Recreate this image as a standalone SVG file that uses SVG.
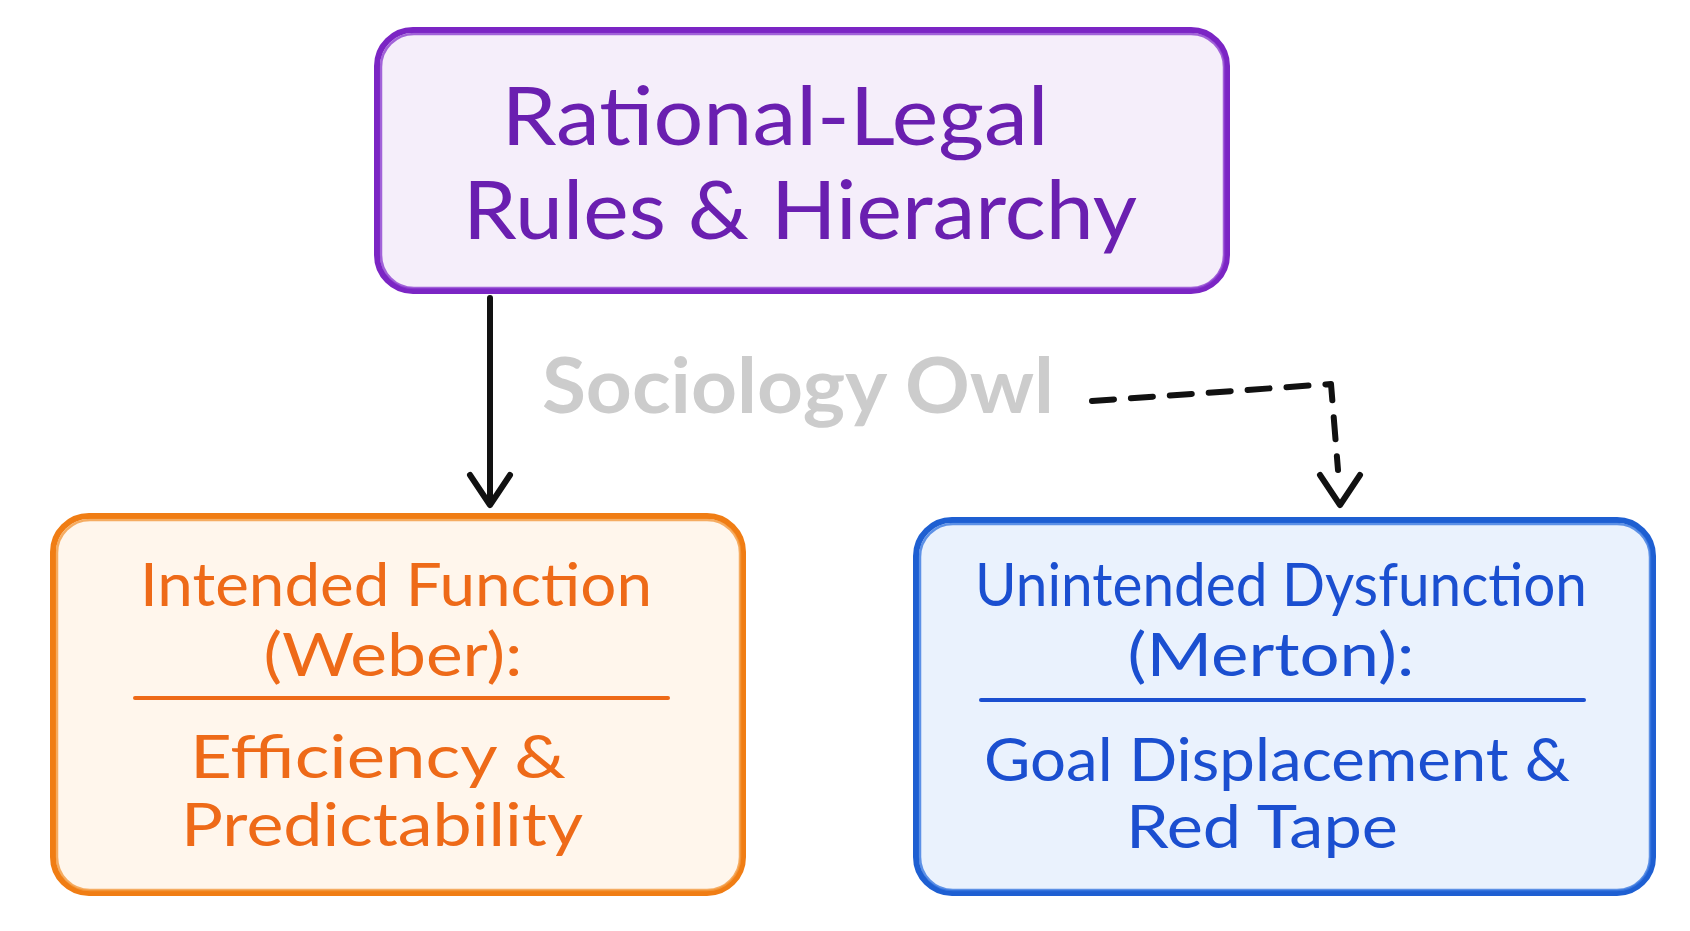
<svg xmlns="http://www.w3.org/2000/svg" width="1690" height="931" viewBox="0 0 1690 931">
<defs>
<style>
.t{font-family:"Lato","Noto Sans","Liberation Sans",sans-serif;font-weight:400;text-anchor:middle}
.ttl{font-size:82px;fill:#6a1fb0}
.lt{font-size:60px;fill:#ee6a18}
.rt{font-size:60px;fill:#1b4fd0}
.wm{font-family:"Lato","Noto Sans","Liberation Sans",sans-serif;font-weight:700;font-size:76px;fill:#cccccc;text-anchor:middle}
.conn{stroke:#111;stroke-width:6;fill:none;stroke-linecap:round;stroke-linejoin:round}
</style>
</defs>
<rect width="1690" height="931" fill="#ffffff"/>

<g id="watermark">
<text class="wm" x="798" y="413" textLength="512" lengthAdjust="spacingAndGlyphs">Sociology Owl</text>
</g>

<g id="connectors">
<path class="conn" d="M490 298 L490 503"/>
<path class="conn" d="M470 475 L490 505 L510 475"/>
<path class="conn" d="M1092 401 L1331 384 L1338 470" stroke-width="7" stroke-dasharray="22 17"/>
<path class="conn" d="M1320 475 L1340 505 L1360 475"/>
</g>

<g id="node-top">
<rect x="377" y="30" width="850" height="261" rx="36" fill="#f5eefa" stroke="#7b25c4" stroke-width="6"/>
<rect x="381" y="34" width="843" height="254" rx="33" fill="none" stroke="#8c3fd0" stroke-width="2.5" opacity="0.8"/>
<text class="t ttl" x="775" y="145" textLength="547" lengthAdjust="spacingAndGlyphs">Rational-Legal</text>
<text class="t ttl" x="800" y="239" textLength="674" lengthAdjust="spacingAndGlyphs">Rules &amp; Hierarchy</text>
</g>

<g id="node-left">
<rect x="53" y="516" width="690" height="377" rx="36" fill="#fff6ec" stroke="#f07d14" stroke-width="6"/>
<rect x="57" y="520" width="683" height="370" rx="33" fill="none" stroke="#f39a40" stroke-width="2.5" opacity="0.8"/>
<text class="t lt" x="396" y="606" textLength="512" lengthAdjust="spacingAndGlyphs">Intended Function</text>
<text class="t lt" x="393" y="676" textLength="259" lengthAdjust="spacingAndGlyphs">(Weber):</text>
<line x1="135" y1="698" x2="668" y2="698" stroke="#ee6a18" stroke-width="4" stroke-linecap="round"/>
<text class="t lt" x="378" y="778" textLength="376" lengthAdjust="spacingAndGlyphs">Efficiency &amp;</text>
<text class="t lt" x="382" y="846" textLength="402" lengthAdjust="spacingAndGlyphs">Predictability</text>
</g>

<g id="node-right">
<rect x="916" y="520" width="737" height="373" rx="36" fill="#eaf2fd" stroke="#1e5fd2" stroke-width="6"/>
<rect x="920" y="524" width="730" height="366" rx="33" fill="none" stroke="#3a78e0" stroke-width="2.5" opacity="0.8"/>
<text class="t rt" x="1281" y="606" textLength="612" lengthAdjust="spacingAndGlyphs">Unintended Dysfunction</text>
<text class="t rt" x="1271" y="676" textLength="287" lengthAdjust="spacingAndGlyphs">(Merton):</text>
<line x1="981" y1="700" x2="1584" y2="700" stroke="#1b4fd0" stroke-width="4" stroke-linecap="round"/>
<text class="t rt" x="1277" y="781" textLength="586" lengthAdjust="spacingAndGlyphs">Goal Displacement &amp;</text>
<text class="t rt" x="1262" y="848" textLength="272" lengthAdjust="spacingAndGlyphs">Red Tape</text>
</g>
</svg>
